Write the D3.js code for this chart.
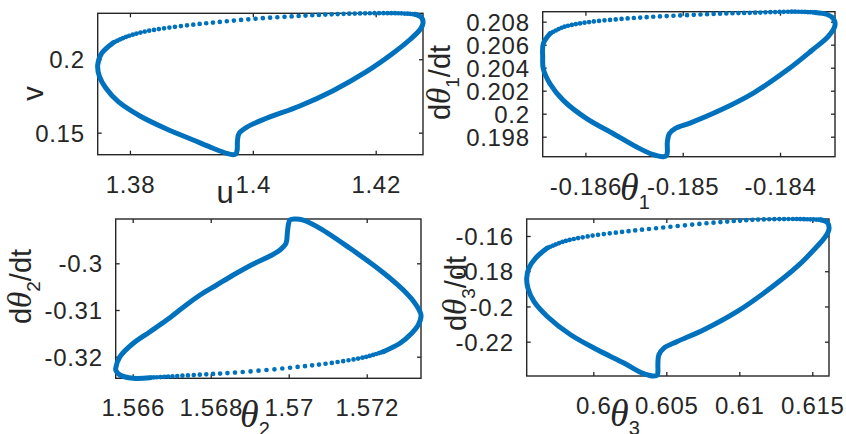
<!DOCTYPE html>
<html><head><meta charset="utf-8">
<script src="https://cdn.jsdelivr.net/npm/d3@7"></script>
<style>
html,body{margin:0;padding:0;background:#fff;}
svg{display:block;}
</style></head><body>
<svg id="fig" width="846" height="434"></svg>
<script>
// ---------- limit-cycle samples ----------
// Each panel: a densely sampled slow branch and a sparsely sampled fast branch.

// panel 1: u vs v
const uSlow = [1.37728, 1.37540, 1.37475, 1.37501, 1.37610, 1.37810, 1.38163, 1.38597, 1.39029, 1.39354, 1.39572, 1.39680, 1.39724, 1.39745, 1.39751, 1.39777, 1.39897, 1.40223, 1.40764, 1.41306, 1.41849, 1.42281, 1.42564, 1.42726, 1.42770, 1.42743, 1.42634];
const vSlow = [0.21131, 0.20409, 0.19612, 0.18862, 0.18025, 0.17112, 0.16138, 0.15252, 0.14503, 0.13937, 0.13597, 0.13500, 0.13548, 0.13822, 0.14503, 0.14959, 0.15368, 0.15981, 0.16819, 0.17861, 0.19155, 0.20409, 0.21362, 0.22044, 0.22452, 0.22861, 0.23065];
const uFast = [1.42634, 1.42390, 1.41849, 1.41306, 1.40764, 1.40223, 1.39680, 1.39138, 1.38597, 1.38216, 1.37946, 1.37728];
const vFast = [0.23065, 0.23130, 0.23130, 0.23065, 0.22950, 0.22813, 0.22629, 0.22405, 0.22132, 0.21860, 0.21540, 0.21131];

// panel 2: theta1 vs dtheta1/dt
const th1Slow = [-0.186364, -0.186433, -0.186439, -0.186433, -0.186364, -0.186227, -0.185987, -0.185713, -0.185473, -0.185302, -0.185199, -0.185165, -0.185158, -0.185158, -0.185138, -0.185079, -0.184925, -0.184617, -0.184274, -0.183931, -0.183674, -0.183504, -0.183435, -0.183452, -0.183514, -0.183640];
const w1Slow = [0.20696, 0.20609, 0.20492, 0.20391, 0.20261, 0.20116, 0.19957, 0.19826, 0.19710, 0.19643, 0.19626, 0.19640, 0.19666, 0.19753, 0.19826, 0.19870, 0.19918, 0.20029, 0.20179, 0.20377, 0.20550, 0.20672, 0.20768, 0.20826, 0.20863, 0.20881];
const th1Fast = [-0.183640, -0.183863, -0.184274, -0.184617, -0.184959, -0.185302, -0.185644, -0.185987, -0.186227, -0.186364];
const w1Fast = [0.20881, 0.20887, 0.20878, 0.20870, 0.20857, 0.20843, 0.20823, 0.20794, 0.20753, 0.20696];

// panel 3: theta2 vs dtheta2/dt
const th2Slow = [1.566444, 1.566015, 1.565674, 1.565572, 1.565564, 1.565674, 1.566015, 1.566444, 1.566872, 1.567297, 1.567726, 1.568154, 1.568579, 1.569092, 1.569521, 1.569777, 1.569931, 1.569964, 1.569990, 1.570033, 1.570162, 1.570374, 1.570803, 1.571572, 1.572426, 1.572938, 1.573238, 1.573392, 1.573323, 1.573154, 1.572854, 1.572426];
const w2Slow = [-0.32450, -0.32463, -0.32392, -0.32300, -0.32248, -0.32000, -0.31713, -0.31465, -0.31214, -0.30942, -0.30679, -0.30465, -0.30251, -0.30015, -0.29844, -0.29715, -0.29572, -0.29358, -0.29180, -0.29070, -0.29051, -0.29075, -0.29251, -0.29679, -0.30201, -0.30572, -0.30857, -0.31107, -0.31321, -0.31499, -0.31713, -0.31893];
const th2Fast = [1.572426, 1.572000, 1.571144, 1.570290, 1.569436, 1.568579, 1.567726, 1.566872, 1.566444];
const w2Fast = [-0.31893, -0.32000, -0.32128, -0.32214, -0.32285, -0.32343, -0.32385, -0.32428, -0.32450];

// panel 4: theta3 vs dtheta3/dt
const th3Slow = [0.596849, 0.596048, 0.595589, 0.595438, 0.595521, 0.595932, 0.596849, 0.598445, 0.600274, 0.602096, 0.603356, 0.604151, 0.604384, 0.604425, 0.604425, 0.604493, 0.604836, 0.605753, 0.607575, 0.609863, 0.612144, 0.613973, 0.615226, 0.615911, 0.616144, 0.616027, 0.615568];
const w3Slow = [-0.16685, -0.17253, -0.17820, -0.18388, -0.18956, -0.19716, -0.20568, -0.21606, -0.22458, -0.23213, -0.23780, -0.23947, -0.23900, -0.23690, -0.23213, -0.22742, -0.22361, -0.21987, -0.21323, -0.20284, -0.18956, -0.17729, -0.16685, -0.16027, -0.15607, -0.15232, -0.15079];
const th3Fast = [0.615568, 0.613973, 0.611000, 0.608719, 0.606438, 0.604151, 0.601870, 0.599589, 0.597986, 0.596849];
const w3Fast = [-0.15079, -0.15035, -0.15079, -0.15209, -0.15379, -0.15572, -0.15777, -0.16027, -0.16310, -0.16685];

// ---------- ticks ----------
const uTicks = [1.38, 1.4, 1.42];
const uTickLabels = ["1.38", "1.4", "1.42"];
const vTicks = [0.15, 0.2];
const vTickLabels = ["0.15", "0.2"];
const th1Ticks = [-0.186, -0.185, -0.184];
const th1TickLabels = ["-0.186", "-0.185", "-0.184"];
const w1Ticks = [0.198, 0.2, 0.202, 0.204, 0.206, 0.208];
const w1TickLabels = ["0.198", "0.2", "0.202", "0.204", "0.206", "0.208"];
const th2Ticks = [1.566, 1.568, 1.57, 1.572];
const th2TickLabels = ["1.566", "1.568", "1.57", "1.572"];
const w2Ticks = [-0.32, -0.31, -0.3];
const w2TickLabels = ["-0.32", "-0.31", "-0.3"];
const th3Ticks = [0.6, 0.605, 0.61, 0.615];
const th3TickLabels = ["0.6", "0.605", "0.61", "0.615"];
const w3Ticks = [-0.22, -0.2, -0.18, -0.16];
const w3TickLabels = ["-0.22", "-0.2", "-0.18", "-0.16"];

// ---------- styling ----------
const LINE_BLUE = "#0072BD";
const AXIS_COL = "#262626";
const SANS = "'Liberation Sans', Arial, Helvetica, sans-serif";
const SERIF = "'Liberation Serif', 'Times New Roman', serif";
const TICK_FONT = 24;
const MARK_W = 5;

const XLAB = { sans: 31, greek: 38, sub: 20, subShift: 9 };
const YLAB = { sans: 29, greek: 33, sub: 19, subShift: 9 };

const panels = [
  { xs: [uSlow, uFast], ys: [vSlow, vFast], xt: uTicks, xtl: uTickLabels, yt: vTicks, ytl: vTickLabels,
    box: { l: 97.7, r: 423, t: 13.3, b: 154.7 }, gap: 7.3,
    xlab: { x: 225, y: 203, anchor: "middle", parts: [{ s: "u" }] },
    ylab: { x: 43, y: 93.5, size: 29, parts: [{ s: "v" }] } },
  { xs: [th1Slow, th1Fast], ys: [w1Slow, w1Fast], xt: th1Ticks, xtl: th1TickLabels, yt: w1Ticks, ytl: w1TickLabels,
    box: { l: 542.7, r: 835, t: 11.7, b: 156.7 }, gap: 6.8,
    xlab: { x: 620, y: 200, anchor: "start", parts: [{ s: "θ", greek: true }, { s: "1", sub: true }] },
    ylab: { x: 450, y: 82.5, parts: [{ s: "d" }, { s: "θ", greek: true }, { s: "1", sub: true }, { s: "/dt" }] } },
  { xs: [th2Slow, th2Fast], ys: [w2Slow, w2Fast], xt: th2Ticks, xtl: th2TickLabels, yt: w2Ticks, ytl: w2TickLabels,
    box: { l: 115.7, r: 421, t: 219, b: 378.3 }, gap: 8,
    xlab: { x: 240, y: 427, anchor: "start", parts: [{ s: "θ", greek: true }, { s: "2", sub: true }] },
    ylab: { x: 31, y: 286.5, parts: [{ s: "d" }, { s: "θ", greek: true }, { s: "2", sub: true }, { s: "/dt" }] } },
  { xs: [th3Slow, th3Fast], ys: [w3Slow, w3Fast], xt: th3Ticks, xtl: th3TickLabels, yt: w3Ticks, ytl: w3TickLabels,
    box: { l: 526.7, r: 829, t: 219, b: 376 }, gap: 7.3,
    xlab: { x: 610, y: 426, anchor: "start", parts: [{ s: "θ", greek: true }, { s: "3", sub: true }] },
    ylab: { x: 466, y: 293.5, parts: [{ s: "d" }, { s: "θ", greek: true }, { s: "3", sub: true }, { s: "/dt" }] } }
];

const svg = d3.select("#fig");

// fills a text element with plain, greek and subscript runs
function writeLabel(sel, parts, sty, plainSize) {
  let shifted = 0;
  parts.forEach(p => {
    const ts = sel.append("tspan").text(p.s);
    if (p.greek) ts.attr("font-family", SERIF).attr("font-style", "italic").attr("font-size", sty.greek);
    else if (p.sub) ts.attr("font-size", sty.sub);
    else ts.attr("font-size", plainSize || sty.sans);
    const want = p.sub ? sty.subShift : 0;
    if (want !== shifted) { ts.attr("dy", want - shifted); shifted = want; }
  });
}

// zero-length dashes with round caps give a row of dots; spacing widens mid-arc
function dotPattern(L, gMin, gMax) {
  const parts = [];
  let s = 0;
  while (s < L) {
    const g = gMin + (gMax - gMin) * Math.pow(Math.sin(Math.PI * s / L), 0.8);
    parts.push(0, g);
    s += g;
  }
  return parts.join(" ");
}

panels.forEach(p => {
  const allX = p.xs[0].concat(p.xs[1]);
  const allY = p.ys[0].concat(p.ys[1]);
  const x = d3.scaleLinear().domain(d3.extent(allX)).range([p.box.l, p.box.r]);
  const y = d3.scaleLinear().domain(d3.extent(allY)).range([p.box.b, p.box.t]);
  const g = svg.append("g");

  // axes: ticks point inward on all four sides
  const TL = 4;
  const bottom = g.append("g").attr("transform", `translate(0,${p.box.b})`)
    .call(d3.axisBottom(x).tickValues(p.xt).tickFormat((d, i) => p.xtl[i]).tickSizeInner(-TL).tickSizeOuter(0).tickPadding(21));
  const top = g.append("g").attr("transform", `translate(0,${p.box.t})`)
    .call(d3.axisTop(x).tickValues(p.xt).tickFormat("").tickSizeInner(-TL).tickSizeOuter(0));
  const left = g.append("g").attr("transform", `translate(${p.box.l},0)`)
    .call(d3.axisLeft(y).tickValues(p.yt).tickFormat((d, i) => p.ytl[i]).tickSizeInner(-TL).tickSizeOuter(0).tickPadding(13));
  const right = g.append("g").attr("transform", `translate(${p.box.r},0)`)
    .call(d3.axisRight(y).tickValues(p.yt).tickFormat("").tickSizeInner(-TL).tickSizeOuter(0));
  [bottom, top, left, right].forEach(a => {
    a.select(".domain").remove();
    a.selectAll("line").attr("stroke", AXIS_COL).attr("stroke-width", 1.3);
    a.selectAll("text").attr("fill", AXIS_COL).attr("font-family", SANS)
      .attr("font-size", TICK_FONT).attr("letter-spacing", "0.7px");
  });
  left.selectAll("text").attr("dy", "0.36em");

  g.append("rect")
    .attr("x", p.box.l).attr("y", p.box.t)
    .attr("width", p.box.r - p.box.l).attr("height", p.box.b - p.box.t)
    .attr("fill", "none").attr("stroke", AXIS_COL).attr("stroke-width", 1.4);

  const line = d3.line().x(d => x(d[0])).y(d => y(d[1])).curve(d3.curveCatmullRom.alpha(0.5));
  const slowPts = p.xs[0].map((v, i) => [v, p.ys[0][i]]);
  const fastPts = p.xs[1].map((v, i) => [v, p.ys[1][i]]);

  g.append("path").attr("d", line(slowPts))
    .attr("fill", "none").attr("stroke", LINE_BLUE).attr("stroke-width", MARK_W)
    .attr("stroke-linecap", "round").attr("stroke-linejoin", "round");

  const fast = g.append("path").attr("d", line(fastPts))
    .attr("fill", "none").attr("stroke", LINE_BLUE).attr("stroke-width", MARK_W - 0.3)
    .attr("stroke-linecap", "round");
  const L = fast.node().getTotalLength();
  fast.attr("stroke-dasharray", dotPattern(L, 2.2, p.gap));

  // axis labels
  const xl = g.append("text").attr("x", p.xlab.x).attr("y", p.xlab.y)
    .attr("text-anchor", p.xlab.anchor).attr("fill", AXIS_COL).attr("font-family", SANS);
  writeLabel(xl, p.xlab.parts, XLAB);
  const yl = g.append("text").attr("transform", `translate(${p.ylab.x},${p.ylab.y}) rotate(-90)`)
    .attr("text-anchor", "middle").attr("fill", AXIS_COL).attr("font-family", SANS);
  writeLabel(yl, p.ylab.parts, YLAB, p.ylab.size);
});
</script>
</body></html>
